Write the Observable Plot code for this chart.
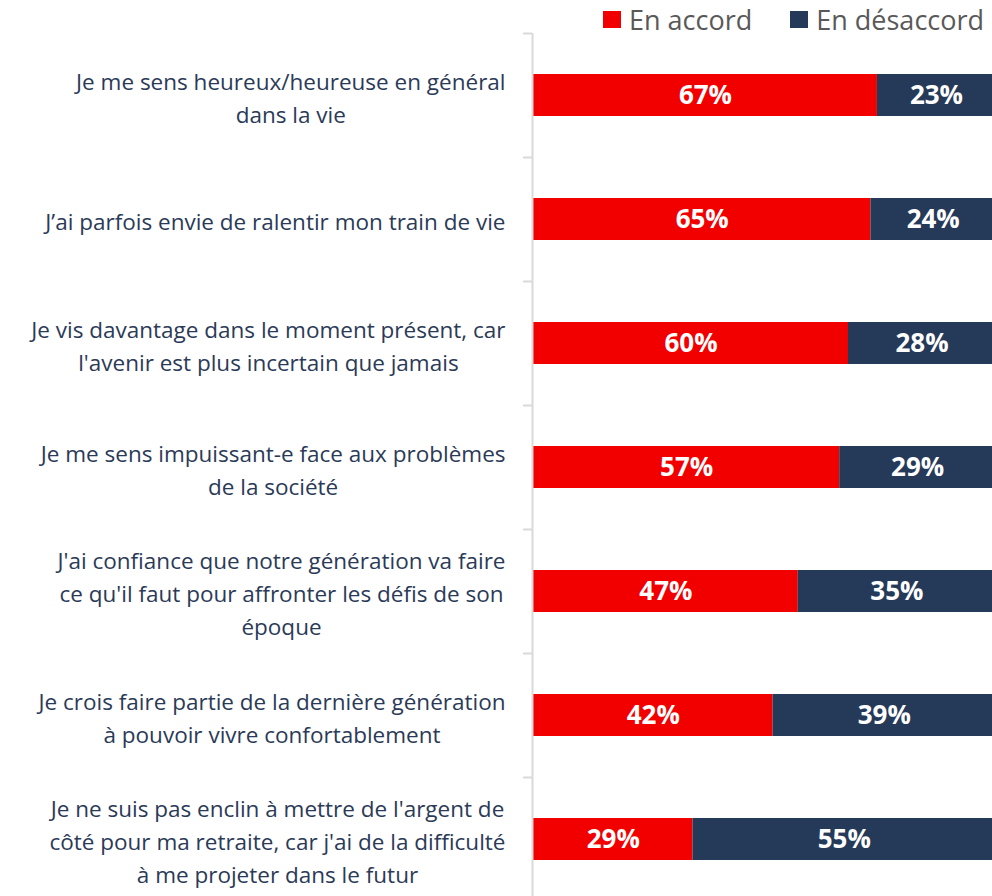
<!DOCTYPE html>
<html>
<head>
<meta charset="utf-8">
<script src="https://cdn.jsdelivr.net/npm/d3@7"></script>
<script src="https://cdn.jsdelivr.net/npm/@observablehq/plot@0.6"></script>
<style>
  html, body { margin: 0; padding: 0; background: #fff; overflow: hidden; }
  #wrap { position: relative; width: 992px; height: 896px; }
  #legend { position: absolute; top: 0; left: 603px; height: 38px; display: flex; align-items: center;
    font-family: "Open Sans", sans-serif; font-size: 27px; color: #595959; white-space: nowrap; }
  #legend .sw { display: inline-block; width: 18px; height: 17px; margin-right: 8px; }
  #legend .item { display: flex; align-items: center; }
  #legend .item + .item { margin-left: 38px; }
</style>
</head>
<body>
<div id="wrap">
  <div id="legend"></div>
  <div id="chart"></div>
</div>
<script>
const statements = [
  "Je me sens heureux/heureuse en général\ndans la vie",
  "J’ai parfois envie de ralentir mon train de vie",
  "Je vis davantage dans le moment présent, car\nl'avenir est plus incertain que jamais",
  "Je me sens impuissant-e face aux problèmes\nde la société",
  "J'ai confiance que notre génération va faire\nce qu'il faut pour affronter les défis de son\népoque",
  "Je crois faire partie de la dernière génération\nà pouvoir vivre confortablement",
  "Je ne suis pas enclin à mettre de l'argent de\ncôté pour ma retraite, car j'ai de la difficulté\nà me projeter dans le futur"
];
const seriesNames = ["En accord", "En désaccord"];
const accord = [67, 65, 60, 57, 47, 42, 29];
const desaccord = [23, 24, 28, 29, 35, 39, 55];
const colors = ["#f20000", "#253959"];

const rows = [];
statements.forEach((s, i) => {
  rows.push({q: s, type: seriesNames[0], value: accord[i]});
  rows.push({q: s, type: seriesNames[1], value: desaccord[i]});
});

// legend
const legend = document.getElementById("legend");
seriesNames.forEach((n, i) => {
  const it = document.createElement("div");
  it.className = "item";
  it.innerHTML = `<span class="sw" style="background:${colors[i]}"></span><span>${n}</span>`;
  legend.appendChild(it);
});

const labelSize = 22.5;
const ctx = document.createElement("canvas").getContext("2d");
ctx.font = `${labelSize}px 'Open Sans'`;
const gap = 28;

const labelMarks = statements.map(s => {
  const w = d3.max(s.split("\n"), l => ctx.measureText(l).width);
  return Plot.text([s], {
    y: d => d, x: () => 0, text: d => d,
    textAnchor: "middle", dx: -(gap + w / 2),
    fontSize: labelSize, fontFamily: "Open Sans", fill: "#2b3a57", lineHeight: 1.47
  });
});

const chart = Plot.plot({
  width: 992,
  height: 896,
  marginTop: 33,
  marginBottom: 0,
  marginLeft: 0,
  marginRight: 0,
  style: {fontFamily: "Open Sans", overflow: "visible"},
  x: {domain: [0, 1], range: [533, 995], axis: null},
  y: {domain: statements, range: [33, 901], paddingInner: 0.66, paddingOuter: 0.33, axis: null},
  color: {domain: seriesNames, range: colors},
  marks: [
    Plot.barX(rows, Plot.stackX({x: "value", y: "q", fill: "type", offset: "normalize", order: null})),
    Plot.text(rows, Plot.stackX({x: "value", y: "q", z: "type", offset: "normalize", order: null,
      text: d => d.value + "%", fill: "white", fontWeight: "bold", fontSize: 26})),
    Plot.ruleX([0], {stroke: "#d9d9d9", strokeWidth: 2, dx: -1}),
    Plot.ruleY(statements, {y: d => d, x1: () => 0, x2: () => 0, insetLeft: -9, dy: -62, dx: -1, stroke: "#d9d9d9", strokeWidth: 2}),
    ...labelMarks
  ]
});
document.getElementById("chart").appendChild(chart);
</script>
</body>
</html>
